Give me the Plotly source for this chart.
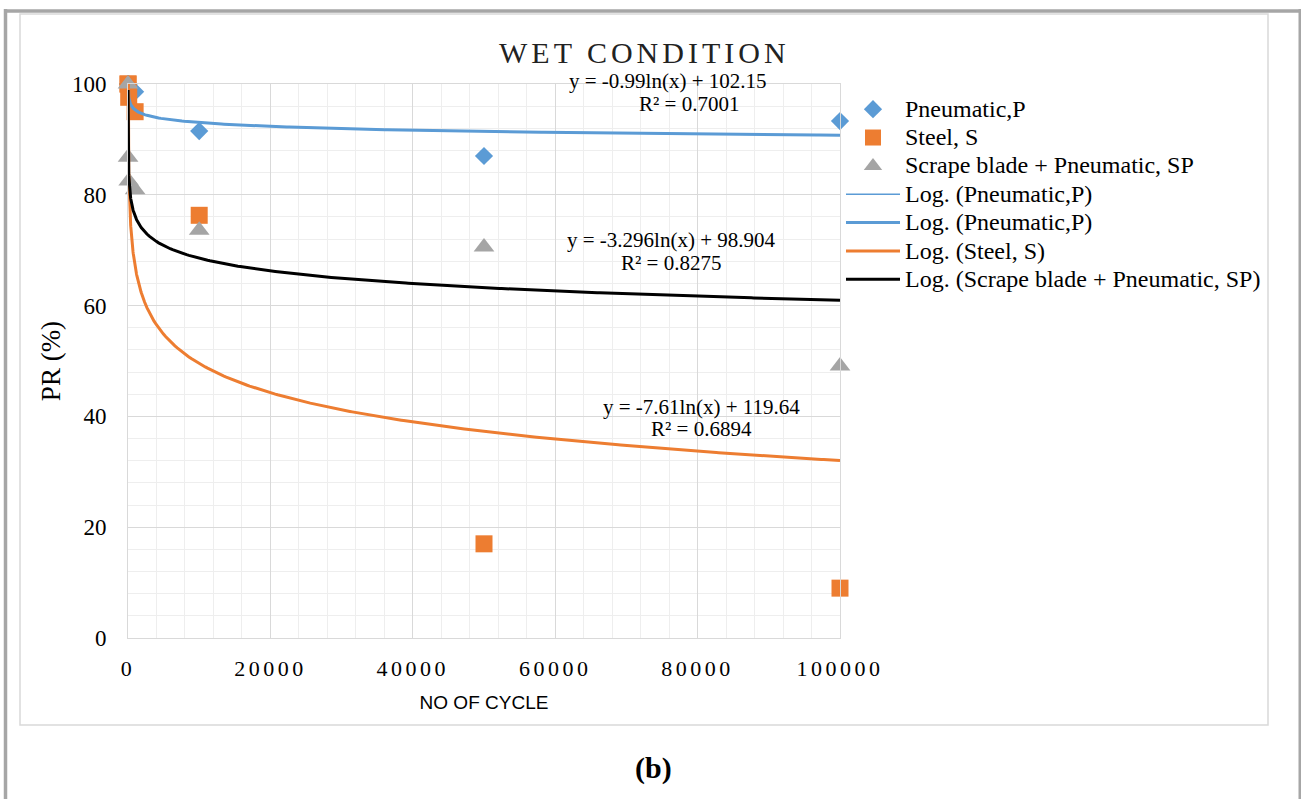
import numpy as np
import plotly.graph_objects as go

# ---------------- data ----------------
cycles = [1, 10, 100, 1000, 10000, 50000, 100000]
pneumatic = [100, 100, 100, 98.6, 91.5, 87.0, 93.3]
steel = [100, 100, 97.6, 95.0, 76.3, 17.0, 9.0]
scrape_pneu = [100, 86.8, 82.5, 80.9, 73.6, 70.6, 49.1]

series_names = ["Pneumatic,P", "Steel, S", "Scrape blade + Pneumatic, SP"]
trend_names = ["Log. (Pneumatic,P)", "Log. (Pneumatic,P)", "Log. (Steel, S)",
               "Log. (Scrape blade + Pneumatic, SP)"]
# logarithmic trendline coefficients y = a*ln(x) + b (as printed on the chart)
trend_a = [-0.99, -7.61, -3.296]
trend_b = [102.15, 119.64, 98.904]
trend_eq = ["y = -0.99ln(x) + 102.15", "y = -7.61ln(x) + 119.64", "y = -3.296ln(x) + 98.904"]
trend_r2 = ["R² = 0.7001", "R² = 0.6894", "R² = 0.8275"]

x_ticks = [0, 20000, 40000, 60000, 80000, 100000]
y_ticks = [0, 20, 40, 60, 80, 100]

# ---------------- layout helpers ----------------
W, H = 1301, 799
PL, PR_, PT, PB = 128, 840, 84, 638  # plot area pixels


def px(xp):
    return (xp - PL) / (PR_ - PL)


def py(yp):
    return (PB - yp) / (PB - PT)


def leg(name):
    return f'<span style="font-size:24px">{name}</span>'


SERIF = "Liberation Serif, Times New Roman, serif"
BLUE, ORANGE, GRAY = "#5b9bd5", "#ed7d31", "#a5a5a5"

fig = go.Figure()

fig.add_trace(go.Scatter(x=cycles, y=pneumatic, mode="markers", name=leg(series_names[0]),
                         marker=dict(symbol="diamond", size=14, color=BLUE), cliponaxis=False))
fig.add_trace(go.Scatter(x=cycles, y=steel, mode="markers", name=leg(series_names[1]),
                         marker=dict(symbol="square", size=17, color=ORANGE), cliponaxis=False))
fig.add_trace(go.Scatter(x=cycles, y=scrape_pneu, mode="markers", name=leg(series_names[2]),
                         marker=dict(symbol="triangle-up", size=18, color=GRAY), cliponaxis=False))

tx = np.unique(np.concatenate([np.geomspace(cycles[0], 2000, 250),
                               np.linspace(2000, cycles[-1], 300)]))


def trend(i):
    return trend_a[i] * np.log(tx) + trend_b[i]


fig.add_trace(go.Scatter(x=tx, y=trend(0), mode="lines", name=leg(trend_names[0]),
                         line=dict(color=BLUE, width=1.5)))
fig.add_trace(go.Scatter(x=tx, y=trend(0), mode="lines", name=leg(trend_names[1]),
                         line=dict(color=BLUE, width=3)))
fig.add_trace(go.Scatter(x=tx, y=trend(1), mode="lines", name=leg(trend_names[2]),
                         line=dict(color=ORANGE, width=3)))
fig.add_trace(go.Scatter(x=tx, y=trend(2), mode="lines", name=leg(trend_names[3]),
                         line=dict(color="black", width=3)))

fig.update_xaxes(range=[0, 100000], tickvals=x_ticks,
                 ticktext=[f'<span style="letter-spacing:3.5px">{v}</span>' for v in x_ticks],
                 showgrid=True, gridcolor="#d9d9d9", gridwidth=1,
                 minor=dict(dtick=4000, showgrid=True, gridcolor="#eeeeee", gridwidth=1),
                 zeroline=False, showline=True, linecolor="#d9d9d9", mirror=True,
                 ticks="", tickfont=dict(family=SERIF, size=22, color="black"), ticklabelstandoff=11,
                 title=dict(text="NO OF CYCLE", font=dict(family="Liberation Sans, Arial", size=19, color="black"),
                            standoff=15))
fig.update_yaxes(range=[0, 100], tickvals=y_ticks,
                 showgrid=True, gridcolor="#d9d9d9", gridwidth=1,
                 minor=dict(dtick=4, showgrid=True, gridcolor="#eeeeee", gridwidth=1),
                 zeroline=False, showline=True, linecolor="#d9d9d9", mirror=True,
                 ticks="", tickfont=dict(family=SERIF, size=23, color="black"), ticklabelstandoff=16,
                 title=dict(text="PR (%)", font=dict(family=SERIF, size=27, color="black"), standoff=3))

annotations = [
    dict(x=px(644), y=py(52), xref="paper", yref="paper", xanchor="center", yanchor="middle",
         text='<span style="letter-spacing:4px">WET CONDITION</span>',
         showarrow=False, font=dict(family=SERIF, size=30, color="#222222")),
    dict(x=px(653), y=py(768), xref="paper", yref="paper", xanchor="center", yanchor="middle",
         text="<b>(b)</b>", showarrow=False, font=dict(family=SERIF, size=30, color="black")),
]
eq_pos = [((668, 81), (689, 104)), ((701, 407), (701, 429)), ((671, 240), (671, 263))]
for i in range(3):
    (ex, ey), (rx, ry) = eq_pos[i]
    annotations.append(dict(x=px(ex), y=py(ey), xref="paper", yref="paper", xanchor="center",
                            yanchor="middle", text=trend_eq[i], showarrow=False,
                            font=dict(family=SERIF, size=21, color="black")))
    annotations.append(dict(x=px(rx), y=py(ry), xref="paper", yref="paper", xanchor="center",
                            yanchor="middle", text=trend_r2[i], showarrow=False,
                            font=dict(family=SERIF, size=21, color="black")))

shapes = [
    # chart area border
    dict(type="rect", xref="paper", yref="paper", x0=px(20), x1=px(1268), y0=py(14), y1=py(725),
         line=dict(color="#d9d9d9", width=1.5), fillcolor="rgba(0,0,0,0)", layer="below"),
    # outer grey frame
    dict(type="line", xref="paper", yref="paper", x0=px(5.5), x1=px(5.5), y0=py(9), y1=py(799),
         line=dict(color="#a6a6a6", width=3.5)),
    dict(type="line", xref="paper", yref="paper", x0=px(4), x1=px(1301), y0=py(11), y1=py(11),
         line=dict(color="#a6a6a6", width=3.5)),
    dict(type="line", xref="paper", yref="paper", x0=px(1300), x1=px(1300), y0=py(9), y1=py(799),
         line=dict(color="#a6a6a6", width=3)),
]

fig.update_layout(
    width=W, height=H,
    margin=dict(l=PL, r=W - PR_, t=PT, b=H - PB, autoexpand=False),
    paper_bgcolor="white", plot_bgcolor="white",
    font=dict(family=SERIF, color="black"),
    showlegend=True,
    legend=dict(x=px(841), y=py(90), xanchor="left", yanchor="top",
                font=dict(family=SERIF, size=19.5, color="black"),
                bgcolor="rgba(0,0,0,0)", itemwidth=54, tracegroupgap=0),
    annotations=annotations, shapes=shapes,
)

fig.write_html("out.html", config={"displayModeBar": False},
               post_script="document.body.style.margin='0px';document.body.style.overflow='hidden';")
